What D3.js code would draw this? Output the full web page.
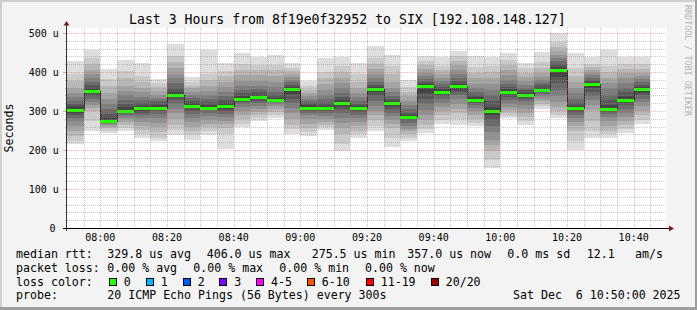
<!DOCTYPE html>
<html><head><meta charset="utf-8">
<script src="https://cdn.jsdelivr.net/npm/d3@7"></script>
<style>
body{margin:0;background:#f3f3f3}
svg text{font-family:"DejaVu Sans Mono",monospace;fill:#000;white-space:pre}
</style>
</head><body>
<svg id="c" width="697" height="310"></svg>
<script>
// ---------- data ----------
const barTimes = ["07:50","07:55","08:00","08:05","08:10","08:15","08:20","08:25","08:30","08:35",
  "08:40","08:45","08:50","08:55","09:00","09:05","09:10","09:15","09:20","09:25",
  "09:30","09:35","09:40","09:45","09:50","09:55","10:00","10:05","10:10","10:15",
  "10:20","10:25","10:30","10:35","10:40"];
// median rtt per step (microseconds)
const medians = [303,352,275.5,301,307,309,342,314,309,312,332,336,329,356,309,308,320,307,357,320,
  285,363,350,363,329,299,350,342,355,406,307,369,305,329,357];
// 20 sorted ping rtts per step (microseconds)
const pings = [
[215,222,235,250,262,275,283,290,296,301,306,312,318,326,335,345,360,378,395,428],
[248,275,300,308,315,322,330,338,345,350,354,360,368,375,385,395,405,420,437,457],
[244,250,256,260,264,267,270,272,273,274,277,283,292,305,318,330,345,365,382,408],
[248,256,265,272,280,285,290,294,297,300,303,310,318,328,340,352,365,385,402,430],
[231,240,252,262,272,282,290,296,301,305,309,314,320,328,337,348,360,375,390,423],
[222,232,245,258,270,282,292,299,304,308,311,316,322,328,334,342,352,362,372,382],
[239,252,265,280,295,305,318,328,335,340,344,350,360,372,385,395,410,425,440,473],
[227,238,248,260,272,282,292,300,307,312,315,320,326,333,340,350,358,365,375,387],
[239,250,258,268,278,288,296,302,306,308,311,316,322,330,340,352,365,380,395,457],
[203,240,256,266,275,285,293,300,306,310,314,320,328,338,350,362,375,390,402,423],
[258,268,280,290,300,310,318,324,328,331,334,338,345,355,365,378,392,405,420,449],
[274,282,290,298,305,312,320,326,331,335,338,342,348,356,365,378,392,405,418,438],
[282,290,298,305,312,318,322,325,327,328,330,334,340,350,362,375,390,405,418,443],
[241,255,265,280,295,308,320,332,343,352,358,362,368,375,380,388,395,402,410,423],
[235,245,256,268,280,290,296,301,305,308,311,315,320,326,332,338,345,355,365,376],
[252,258,264,272,280,288,295,300,304,307,309,313,320,330,342,355,370,385,400,436],
[197,215,240,256,270,282,295,305,312,318,322,328,335,345,358,372,385,400,415,438],
[231,240,250,262,272,282,290,297,302,306,308,312,318,326,335,345,358,375,395,423],
[248,262,278,290,300,312,325,338,348,355,358,362,368,375,385,395,408,420,435,466],
[209,232,256,268,278,288,296,305,312,318,322,325,330,338,348,360,375,395,415,443],
[224,232,240,248,255,262,270,276,281,284,287,290,296,305,315,325,338,350,362,380],
[244,255,265,278,290,302,318,332,345,358,365,370,375,382,390,398,408,418,428,442],
[267,278,290,300,310,320,330,338,344,348,352,356,362,370,378,385,395,405,415,438],
[265,280,295,305,318,330,340,348,355,360,365,370,378,385,395,405,418,428,440,455],
[261,270,280,290,300,308,315,320,325,328,331,335,342,350,360,370,385,398,412,440],
[154,175,197,212,225,245,262,278,290,297,301,310,325,340,355,370,385,400,415,438],
[282,288,295,302,310,318,328,336,343,348,352,356,362,370,380,392,405,418,432,450],
[265,275,285,295,305,315,325,332,337,341,343,347,353,360,368,378,388,398,410,423],
[305,312,318,325,332,338,343,348,351,354,356,360,366,373,380,388,398,410,425,451],
[282,290,300,310,322,338,355,372,388,400,408,413,420,428,435,445,455,465,478,500],
[201,222,248,262,272,282,290,298,303,306,308,312,320,330,345,360,375,390,410,449],
[231,250,275,303,315,328,338,350,360,367,371,375,380,385,392,398,405,412,420,438],
[231,240,250,262,275,285,292,298,302,304,307,315,328,342,358,372,385,400,415,457],
[244,255,265,275,285,295,305,315,322,327,331,338,348,360,372,385,398,408,420,438],
[267,278,290,300,312,322,332,340,347,353,358,362,368,375,382,390,398,408,420,438]
];
const yTickValues = [0,100,200,300,400,500];
const yTickLabels = ["0","100 u","200 u","300 u","400 u","500 u"];
const xTickLabels = ["08:00","08:20","08:40","09:00","09:20","09:40","10:00","10:20","10:40"];
const timeStart = "07:50", timeEnd = "10:50";
const titleText = "Last 3 Hours from 8f19e0f32952 to SIX [192.108.148.127]";
const yAxisTitle = "Seconds";
const rrdCredit = "RRDTOOL / TOBI OETIKER";
const statLine1 = [["median rtt:",16],["329.8 us avg",107.3],["406.0 us max",206.7],["275.5 us min",311.7],
  ["357.0 us now",407.3],["0.0 ms sd",507.3],["12.1",586.7],["am/s",635]];
const statLine2 = [["packet loss:",16],["0.00 % avg",107.3],["0.00 % max",193.3],["0.00 % min",279.3],["0.00 % now",365]];
const lossLabels = ["0","1","2","3","4-5","6-10","11-19","20/20"];
const lossColors = ["#26ff00","#00b8ff","#0059ff","#7e00ff","#ff00ff","#ff5500","#ff0000","#a00000"];
const lossBoxX = [108.7,145.7,182.7,219.3,256,306.7,365.7,430.7];
const probeLine = [["probe:",16],["20 ICMP Echo Pings (56 Bytes) every 300s",107.3],["Sat Dec  6 10:50:00 2025",513]];

// ---------- drawing ----------
const svg = d3.select("#c");
const parse = d3.timeParse("%H:%M");
const L = 67, R = 667, T = 28, B = 228;
const x = d3.scaleTime().domain([parse(timeStart), parse(timeEnd)]).range([L, R]);
const y = d3.scaleLinear().domain([0, 513]).range([B, T]);

// background + 3d frame
svg.append("rect").attr("width",697).attr("height",310).attr("fill","#f3f3f3");
svg.append("rect").attr("x",0).attr("y",0).attr("width",697).attr("height",2).attr("fill","#cfcfcf");
svg.append("rect").attr("x",0).attr("y",0).attr("width",2).attr("height",310).attr("fill","#cfcfcf");
svg.append("rect").attr("x",0).attr("y",307).attr("width",697).attr("height",3).attr("fill","#9e9e9e");
svg.append("rect").attr("x",695).attr("y",0).attr("width",2).attr("height",310).attr("fill","#9e9e9e");
// canvas
svg.append("rect").attr("x",L).attr("y",T).attr("width",R-L).attr("height",B-T).attr("fill","#ffffff");

// smoke
const gSmoke = svg.append("g").attr("shape-rendering","crispEdges");
barTimes.forEach((t,i)=>{
  const t0 = parse(t);
  const x0 = Math.round(x(t0)), x1 = Math.round(x(d3.timeMinute.offset(t0,5)));
  const p = pings[i];
  for (let k=0;k<10;k++){
    const g = Math.floor(190/10*(10-(k+1)))+50;
    const yt = Math.round(y(p[19-k])), yb = Math.round(y(p[k]));
    gSmoke.append("rect").attr("x",x0).attr("width",x1-x0)
      .attr("y",yt).attr("height",Math.max(1,yb-yt))
      .attr("fill",d3.rgb(g,g,g).formatHex());
  }
});

// median dark step line
const medPts = barTimes.map((t,i)=>[x(parse(t)), y(medians[i])]);
medPts.push([x(d3.timeMinute.offset(parse(barTimes[barTimes.length-1]),5)), y(medians[medians.length-1])]);
svg.append("path").attr("d", d3.line().curve(d3.curveStepAfter)(medPts.map(d=>[Math.round(d[0]), Math.round(d[1])+0.5])))
  .attr("fill","none").attr("stroke","#202020").attr("stroke-width",1).attr("shape-rendering","crispEdges");
// median loss-colored bands
const gMed = svg.append("g").attr("shape-rendering","crispEdges");
barTimes.forEach((t,i)=>{
  const t0 = parse(t);
  const x0 = Math.round(x(t0)), x1 = Math.round(x(d3.timeMinute.offset(t0,5)));
  gMed.append("rect").attr("x",x0).attr("width",x1-x0)
    .attr("y",Math.round(y(medians[i]))-1).attr("height",3).attr("fill",lossColors[0]);
});

// grid (on top, rrdtool style)
const gGrid = svg.append("g").attr("shape-rendering","crispEdges").attr("fill","none").attr("stroke-width",1);
const minorX = x.ticks(d3.timeMinute.every(5)).filter(d=>d.getMinutes()%20!==0 && +d>+parse(timeStart) && +d<+parse(timeEnd));
const majorX = xTickLabels.map(parse);
minorX.forEach(d=>{
  const xx = Math.round(x(d))+0.5;
  gGrid.append("line").attr("x1",xx).attr("x2",xx).attr("y1",T).attr("y2",B)
    .attr("stroke","#8f8f8f").attr("stroke-opacity",0.5).attr("stroke-dasharray","1,1");
});
majorX.forEach(d=>{
  const xx = Math.round(x(d))+0.5;
  gGrid.append("line").attr("x1",xx).attr("x2",xx).attr("y1",T).attr("y2",B)
    .attr("stroke","#de5050").attr("stroke-opacity",0.42).attr("stroke-dasharray","1,1");
});
const minorY = y.ticks(26).filter(v=>v%100!==0 && v<513);
minorY.forEach(v=>{
  const yy = Math.round(y(v))+0.5;
  gGrid.append("line").attr("x1",L).attr("x2",R).attr("y1",yy).attr("y2",yy)
    .attr("stroke","#8f8f8f").attr("stroke-opacity",0.5).attr("stroke-dasharray","1,1");
  gGrid.append("line").attr("x1",L-2).attr("x2",L).attr("y1",yy).attr("y2",yy).attr("stroke","#8f8f8f").attr("stroke-opacity",0.5);
});
yTickValues.filter(v=>v>0).forEach(v=>{
  const yy = Math.round(y(v))+0.5;
  gGrid.append("line").attr("x1",L).attr("x2",R).attr("y1",yy).attr("y2",yy)
    .attr("stroke","#de5050").attr("stroke-opacity",0.42).attr("stroke-dasharray","1,1");
});
yTickValues.forEach(v=>{
  const yy = Math.round(y(v))+0.5;
  gGrid.append("line").attr("x1",L-4).attr("x2",L).attr("y1",yy).attr("y2",yy).attr("stroke","#de5050").attr("stroke-opacity",0.5);
});

// axes
svg.append("line").attr("x1",L-4).attr("x2",R+2).attr("y1",B+0.5).attr("y2",B+0.5)
  .attr("stroke","#000").attr("shape-rendering","crispEdges");
svg.append("line").attr("x1",L-0.5).attr("x2",L-0.5).attr("y1",B+3).attr("y2",T-3)
  .attr("stroke","#333").attr("shape-rendering","crispEdges");
svg.append("path").attr("d",`M${R+2},${B-2.5}L${R+7},${B+0.5}L${R+2},${B+3.5}Z`).attr("fill","#7f1f1f");
svg.append("path").attr("d",`M${L-3.5},${T-2.5}L${L-0.5},${T-7}L${L+2.5},${T-2.5}Z`).attr("fill","#7f1f1f");

// y labels
yTickValues.forEach((v,i)=>{
  svg.append("text").attr("x", v===0 ? 55.5 : 58.8).attr("y", y(v)+3.6)
    .attr("text-anchor","end").attr("font-size","10px").text(yTickLabels[i]);
});
// x labels
majorX.forEach((d,i)=>{
  svg.append("text").attr("x", x(d)).attr("y",240.8).attr("text-anchor","middle")
    .attr("font-size","10px").text(xTickLabels[i]);
});

// title
svg.append("text").attr("x",129).attr("y",24).attr("font-size","13.2px").text(titleText);
// y axis title
svg.append("text").attr("transform","translate(13.4,128) rotate(-90)").attr("text-anchor","middle")
  .attr("font-size","11.6px").text(yAxisTitle);
// credit
svg.append("text").attr("transform","translate(685,5) rotate(90)").attr("font-size","8.4px")
  .style("fill","#b4b4b4").text(rrdCredit);

// legend
const lf = "11.6px";
statLine1.forEach(([s,xx])=>svg.append("text").attr("x",xx).attr("y",258.3).attr("font-size",lf).text(s));
statLine2.forEach(([s,xx])=>svg.append("text").attr("x",xx).attr("y",271.9).attr("font-size",lf).text(s));
svg.append("text").attr("x",16).attr("y",285.6).attr("font-size",lf).text("loss color:");
lossLabels.forEach((s,i)=>{
  svg.append("rect").attr("x",lossBoxX[i]+0.5).attr("y",278.5).attr("width",7).attr("height",7)
    .attr("fill",lossColors[i]).attr("stroke","#000").attr("stroke-width",1).attr("shape-rendering","crispEdges");
  svg.append("text").attr("x",lossBoxX[i]+15).attr("y",285.6).attr("font-size",lf).text(s);
});
probeLine.forEach(([s,xx])=>svg.append("text").attr("x",xx).attr("y",299.3).attr("font-size",lf).text(s));
</script>
</body></html>
